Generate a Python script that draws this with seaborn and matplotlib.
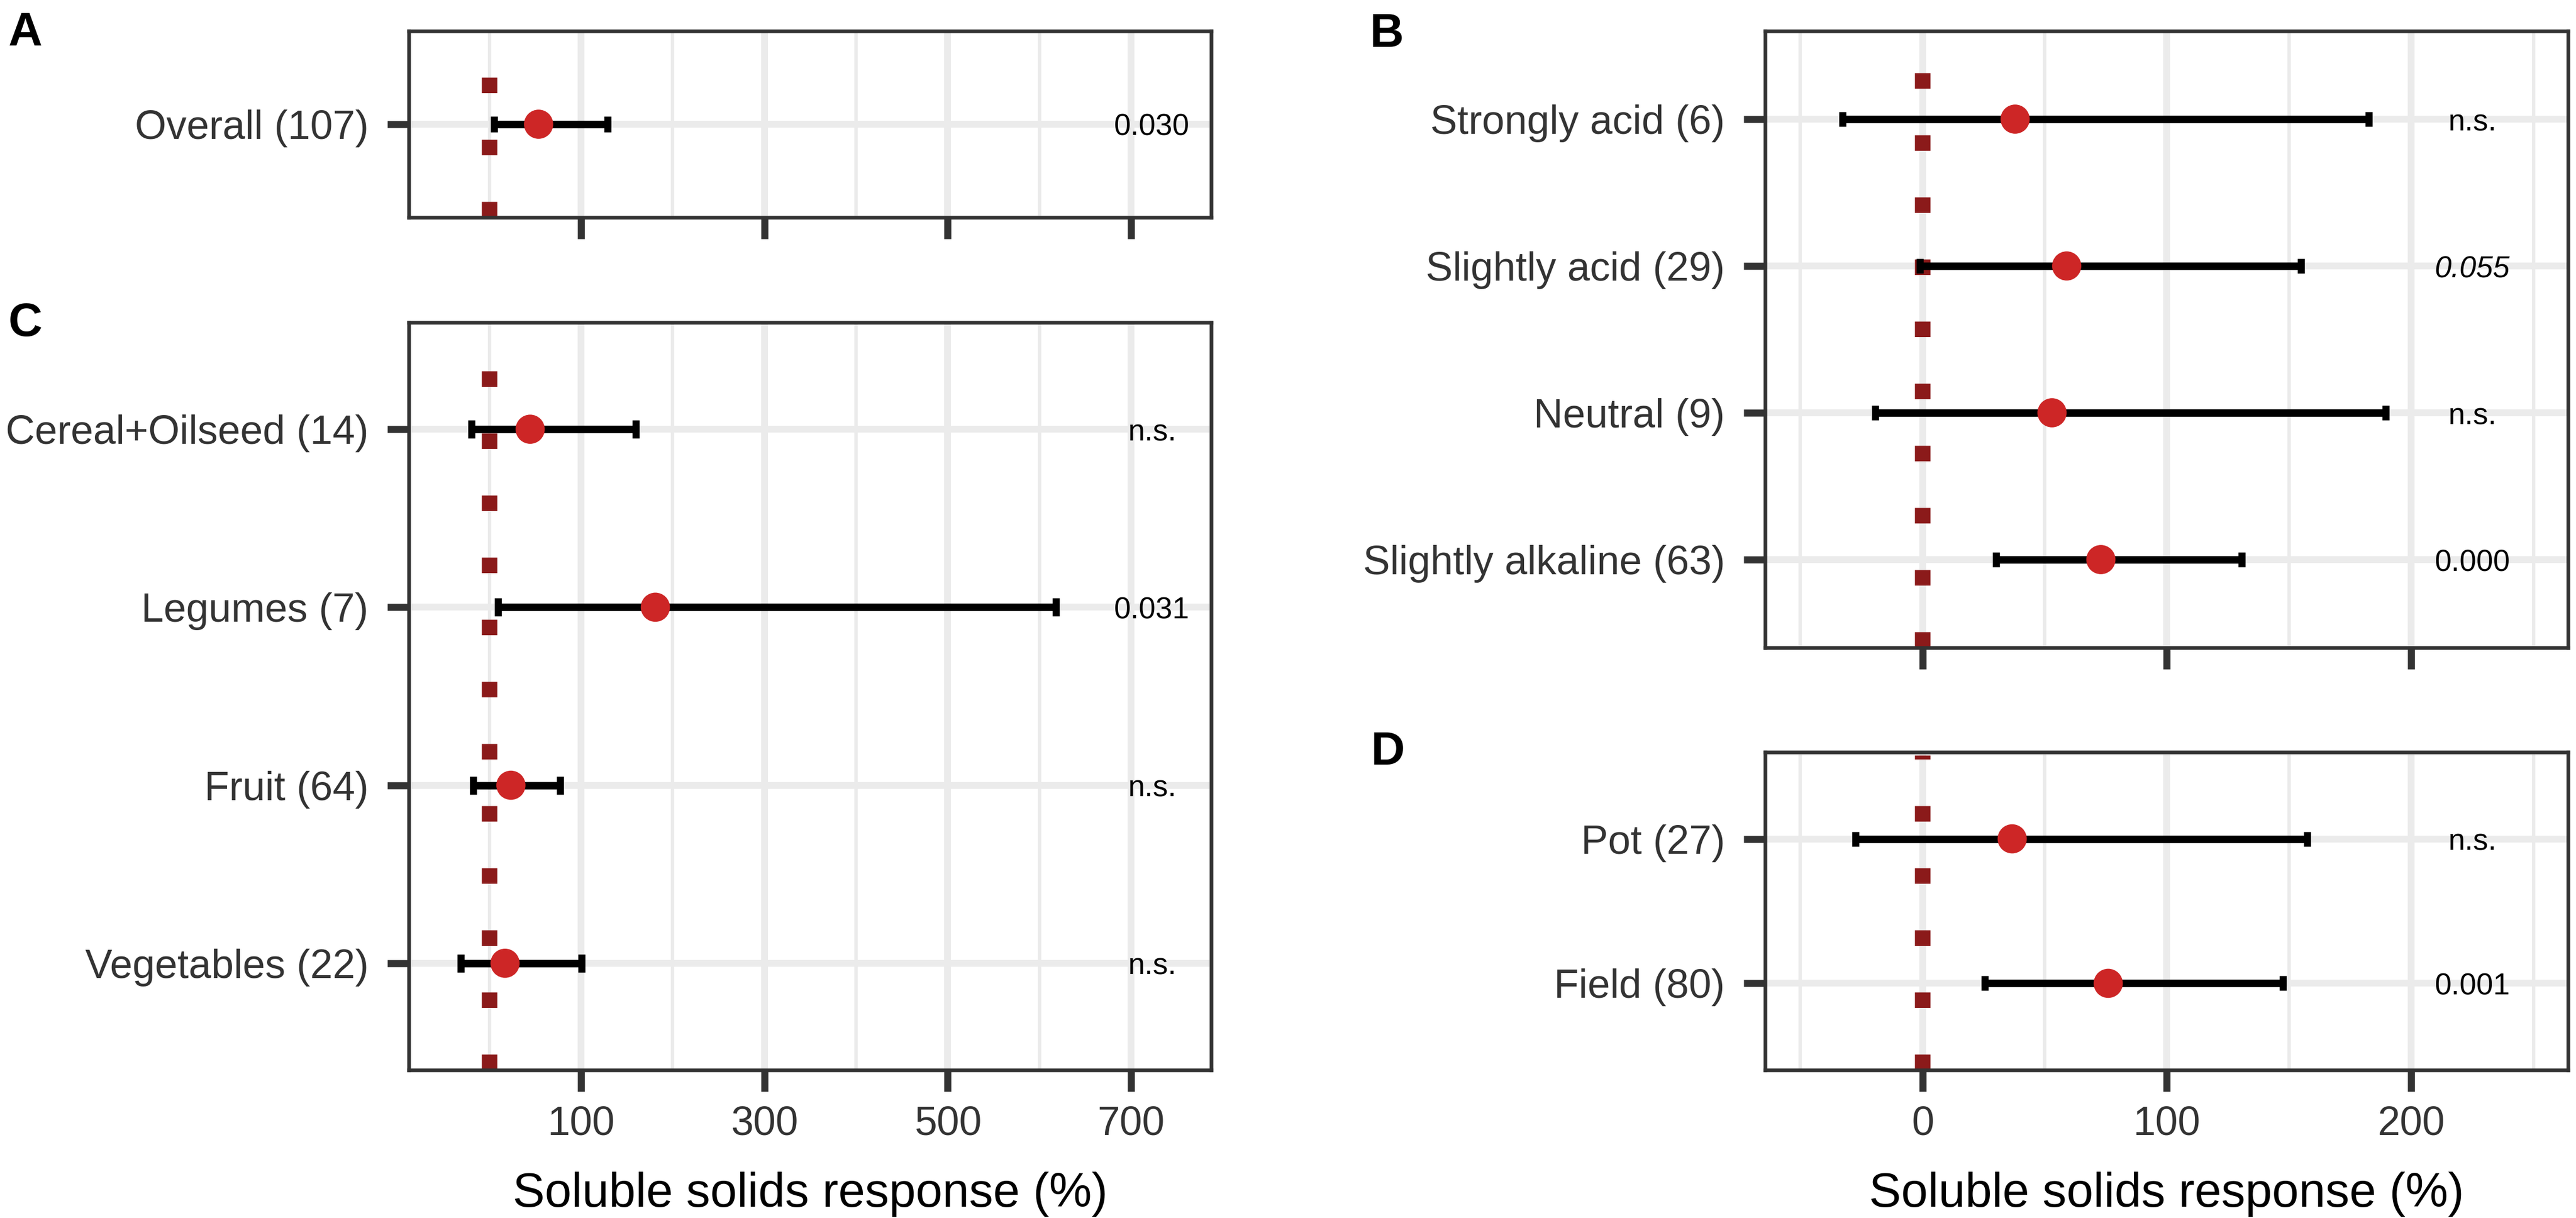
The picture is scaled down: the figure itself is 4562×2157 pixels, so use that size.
import numpy as np
import pandas as pd
import matplotlib
matplotlib.use("Agg")
import matplotlib.pyplot as plt
import matplotlib.transforms as mtransforms
import seaborn as sns

# ---------------- data ----------------
# Panel A
a_labels = ["Overall (107)"]
a_mean = [53.6]
a_lo = [5.0]
a_hi = [129.0]
a_p = ["0.030"]
a_italic = [False]

# Panel C
c_labels = ["Cereal+Oilseed (14)", "Legumes (7)", "Fruit (64)", "Vegetables (22)"]
c_mean = [44.4, 181.0, 23.4, 17.0]
c_lo = [-19.7, 9.2, -18.0, -31.5]
c_hi = [159.5, 618.0, 77.0, 100.5]
c_p = ["n.s.", "0.031", "n.s.", "n.s."]
c_italic = [False, False, False, False]

# Panel B
b_labels = ["Strongly acid (6)", "Slightly acid (29)", "Neutral (9)", "Slightly alkaline (63)"]
b_mean = [37.9, 59.0, 53.0, 73.0]
b_lo = [-32.8, -1.0, -19.4, 30.0]
b_hi = [182.6, 155.0, 189.6, 130.7]
b_p = ["n.s.", "0.055", "n.s.", "0.000"]
b_italic = [False, True, False, False]

# Panel D
d_labels = ["Pot (27)", "Field (80)"]
d_mean = [36.7, 76.0]
d_lo = [-27.5, 25.5]
d_hi = [157.5, 147.6]
d_p = ["n.s.", "0.001"]
d_italic = [False, False]

left_major = [100, 300, 500, 700]
left_minor = [0, 200, 400, 600]
right_major = [0, 100, 200]
right_minor = [-50, 50, 150, 250]
xlabel_text = "Soluble solids response (%)"

# ---------------- style ----------------
sns.set_theme(style="white")
plt.rcParams['font.family'] = ['Liberation Sans', 'DejaVu Sans']

W, H = 4562, 2157
DPI = 300
fig = plt.figure(figsize=(W / DPI, H / DPI), dpi=DPI)
fig.patch.set_facecolor("white")


def rect(l, r, t, b):
    return [l / W, 1 - b / H, (r - l) / W, (b - t) / H]


GRID = "#EBEBEB"
DARK = "#333333"


def panel(ax, labels, mean, lo, hi, pvals, italic, xlim, major, minor,
          text_x, show_xlabels, spacing_px):
    n = len(labels)
    df = pd.DataFrame({"label": labels, "mean": mean, "lo": lo, "hi": hi,
                       "pos": np.arange(n)})
    ax.set_facecolor("white")
    ax.set_axisbelow(True)
    ax.axvline(0, ymin=0, ymax=0.99, color="#8B1A1A", lw=6.6, dashes=(1, 3),
               dash_capstyle="butt", zorder=1.5)
    cap_len_px = 0.1 * spacing_px
    capsize = cap_len_px / 2 * 72 / DPI
    ax.errorbar(df["mean"], df["pos"],
                xerr=[df["mean"] - df["lo"], df["hi"] - df["mean"]],
                fmt="none", ecolor="black", elinewidth=3.2,
                capsize=capsize, capthick=3.0, zorder=2)
    sns.scatterplot(data=df, x="mean", y="pos", ax=ax, color="#CD2626",
                    s=12.4 ** 2, edgecolor="none", linewidth=0, zorder=3,
                    legend=False)
    ax.set_xlim(*xlim)
    ax.set_ylim(n - 1 + 0.6, -0.6)
    ax.set_xticks(major)
    ax.set_xticks(minor, minor=True)
    ax.set_yticks(df["pos"])
    ax.set_yticklabels(labels)
    ax.grid(True, which="major", axis="both", color=GRID, lw=2.9)
    ax.grid(True, which="minor", axis="x", color=GRID, lw=1.45)
    ax.tick_params(axis="both", which="major", length=9.1, width=3.0,
                   color=DARK, labelsize=17.2, labelcolor=DARK,
                   direction="out", bottom=True, left=True, pad=8)
    ax.tick_params(axis="x", which="major", pad=6)
    ax.tick_params(which="minor", length=0)
    ax.tick_params(axis="x", labelbottom=show_xlabels)
    for sp in ax.spines.values():
        sp.set_visible(True)
        sp.set_color(DARK)
        sp.set_linewidth(1.56)
    ax.set_ylabel("")
    if show_xlabels:
        ax.set_xlabel(xlabel_text, fontsize=20.4, color="black", labelpad=12)
    else:
        ax.set_xlabel("")
    offset = mtransforms.ScaledTranslation(0, -20 / DPI, fig.dpi_scale_trans)
    for i, (p, it) in enumerate(zip(pvals, italic)):
        ax.text(text_x, i, p, ha="center", va="baseline", fontsize=12.8,
                color="black", style="italic" if it else "normal",
                transform=ax.transData + offset, zorder=4)


left_xlim = (-88, 787.5)
right_xlim = (-64.4, 264.2)

axA = fig.add_axes(rect(724, 2145, 55, 385))
axC = fig.add_axes(rect(724, 2145, 571, 1895))
axB = fig.add_axes(rect(3126, 4548, 55, 1147))
axD = fig.add_axes(rect(3126, 4548, 1332, 1895))

panel(axA, a_labels, a_mean, a_lo, a_hi, a_p, a_italic, left_xlim,
      left_major, left_minor, 723, False, 275)
panel(axC, c_labels, c_mean, c_lo, c_hi, c_p, c_italic, left_xlim,
      left_major, left_minor, 723, True, 315)
panel(axB, b_labels, b_mean, b_lo, b_hi, b_p, b_italic, right_xlim,
      right_major, right_minor, 225, False, 260)
panel(axD, d_labels, d_mean, d_lo, d_hi, d_p, d_italic, right_xlim,
      right_major, right_minor, 225, True, 259)

for letter, x, t in [("A", 15, 20), ("B", 2425, 22), ("C", 15, 534), ("D", 2427, 1293)]:
    fig.text(x / W, 1 - t / H, letter, ha="left", va="top", fontsize=20,
             fontweight="bold", color="black")

fig.savefig("out.png", dpi=DPI, facecolor="white")
